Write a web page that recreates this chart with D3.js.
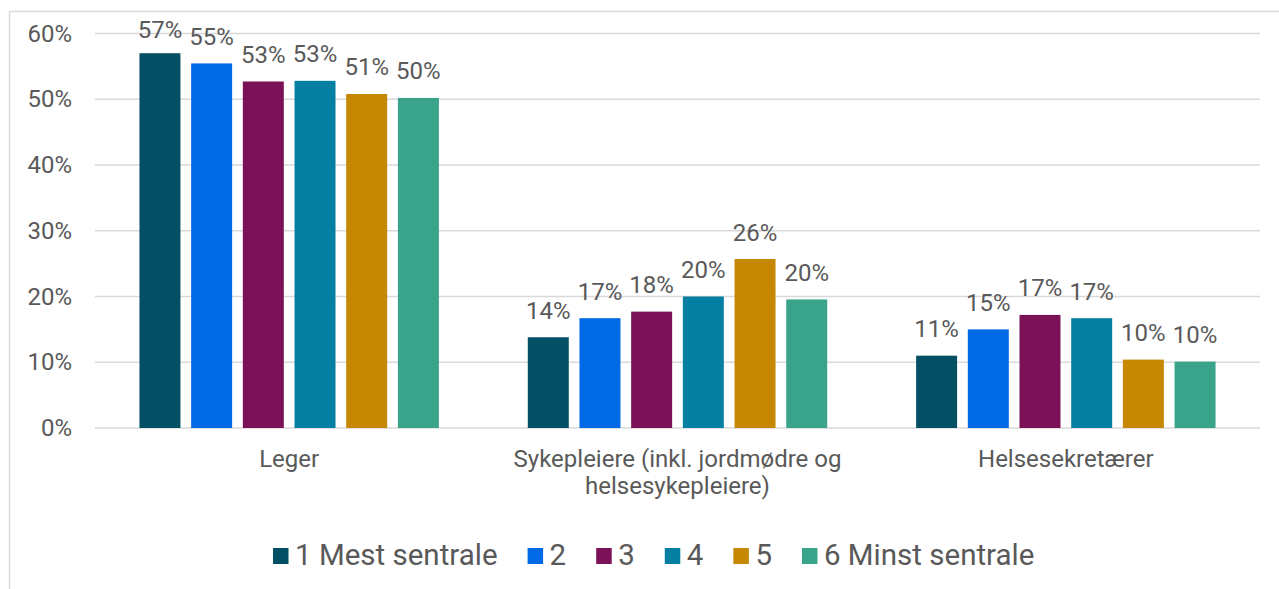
<!DOCTYPE html>
<html>
<head>
<meta charset="utf-8">
<script src="https://cdn.jsdelivr.net/npm/d3@7"></script>
<style>
  body { margin: 0; background: #fff; }
  svg { display: block; font-family: Roboto, "Noto Sans", sans-serif; }
</style>
</head>
<body>
<div id="chart"></div>
<script>
let categories = [
  ['Leger'],
  ['Sykepleiere (inkl. jordmødre og', 'helsesykepleiere)'],
  ['Helsesekretærer']
]
let seriesNames = ['1 Mest sentrale', '2', '3', '4', '5', '6 Minst sentrale']
let colors = ['#034f64', '#0069e6', '#7b1257', '#0580a2', '#c68702', '#3aa48a']

let leger = [0.570, 0.5545, 0.527, 0.528, 0.508, 0.502]
let sykepleiere = [0.138, 0.167, 0.177, 0.200, 0.257, 0.1955]
let helsesekretaerer = [0.110, 0.150, 0.172, 0.167, 0.104, 0.101]
let values = [leger, sykepleiere, helsesekretaerer]

let yTicks = [0, 0.1, 0.2, 0.3, 0.4, 0.5, 0.6]

let width = 1279
let height = 589
let textColor = '#595959'
let fontSize = 24

let svg = d3.select('#chart').append('svg')
  .attr('width', width)
  .attr('height', height)

// chart frame (right and bottom edges are cut off in the picture)
svg.append('rect')
  .attr('x', 9.5)
  .attr('y', 11.5)
  .attr('width', width + 20)
  .attr('height', height + 20)
  .attr('fill', 'none')
  .attr('stroke', '#d9d9d9')
  .attr('stroke-width', 1.5)

let x0 = d3.scaleBand()
  .domain(d3.range(categories.length))
  .range([95, 1260])

let x1 = d3.scaleBand()
  .domain(d3.range(seriesNames.length))
  .range([0, x0.bandwidth()])
  .paddingInner(0.207)
  .paddingOuter(0.86)

let y = d3.scaleLinear()
  .domain([0, 0.6])
  .range([428, 33.5])

let grid = svg.append('g')
grid.selectAll('line')
  .data(yTicks)
  .enter().append('line')
  .attr('x1', 95)
  .attr('x2', 1260)
  .attr('y1', d => y(d))
  .attr('y2', d => y(d))
  .attr('stroke', '#d9d9d9')
  .attr('stroke-width', 1.5)

let yAxis = svg.append('g')
  .attr('transform', 'translate(72,0)')
  .call(d3.axisLeft(y).tickValues(yTicks).tickFormat(d3.format('.0%')).tickSize(0).tickPadding(0))
yAxis.select('.domain').remove()
yAxis.selectAll('text')
  .attr('font-size', fontSize)
  .attr('fill', textColor)
  .attr('font-family', 'Roboto, sans-serif')

let groups = svg.selectAll('.group')
  .data(values)
  .enter().append('g')
  .attr('class', 'group')
  .attr('transform', (d, i) => `translate(${x0(i)},0)`)

groups.selectAll('rect')
  .data(d => d)
  .enter().append('rect')
  .attr('x', (d, i) => x1(i))
  .attr('width', x1.bandwidth())
  .attr('y', d => y(d))
  .attr('height', d => y(0) - y(d))
  .attr('fill', (d, i) => colors[i])

groups.selectAll('.label')
  .data(d => d)
  .enter().append('text')
  .attr('class', 'label')
  .attr('x', (d, i) => x1(i) + x1.bandwidth() / 2)
  .attr('y', d => Math.max(y(d) - 18.5, 38))
  .attr('text-anchor', 'middle')
  .attr('font-size', fontSize)
  .attr('fill', textColor)
  .text(d => Math.round(d * 100) + '%')

let catLabels = svg.selectAll('.cat')
  .data(categories)
  .enter().append('text')
  .attr('class', 'cat')
  .attr('x', (d, i) => x0(i) + x0.bandwidth() / 2)
  .attr('y', 467)
  .attr('text-anchor', 'middle')
  .attr('font-size', fontSize)
  .attr('fill', textColor)

catLabels.selectAll('tspan')
  .data(d => d)
  .enter().append('tspan')
  .attr('x', function() { return d3.select(this.parentNode).attr('x') })
  .attr('dy', (d, i) => i === 0 ? 0 : 27)
  .text(d => d)

// legend
let legend = svg.append('g')
  .attr('transform', 'translate(273,0)')
let items = legend.selectAll('g')
  .data(seriesNames)
  .enter().append('g')

items.append('rect')
  .attr('y', 548)
  .attr('width', 15.5)
  .attr('height', 16)
  .attr('fill', (d, i) => colors[i])

items.append('text')
  .attr('x', 22)
  .attr('y', 565)
  .attr('font-size', 29.5)
  .attr('fill', textColor)
  .text(d => d)

let pos = 0
items.each(function() {
  let w = d3.select(this).select('text').node().getComputedTextLength()
  d3.select(this).attr('transform', `translate(${pos},0)`)
  pos += 22 + w + 30
})
</script>
</body>
</html>
